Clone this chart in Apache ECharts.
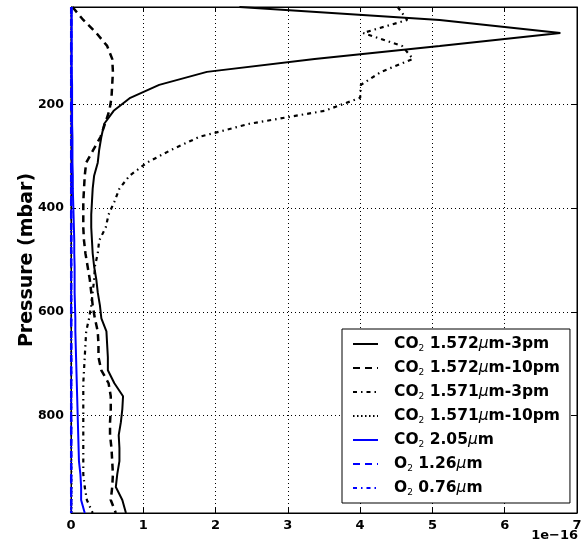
<!DOCTYPE html>
<html>
<head>
<meta charset="utf-8">
<script src="https://cdn.jsdelivr.net/npm/echarts@6/dist/echarts.min.js"></script>
<style>
  html, body { margin: 0; padding: 0; background: #fff; }
  #chart { width: 587px; height: 543px; }
</style>
</head>
<body>
<div id="chart"></div>
<script>
// pressure levels (mbar), layer mid-points
var pressure = [12.5, 37.5, 62.5, 87.5, 112.5, 137.5, 162.5, 187.5, 212.5, 237.5,
  262.5, 287.5, 312.5, 337.5, 362.5, 387.5, 412.5, 437.5, 462.5, 487.5,
  512.5, 537.5, 562.5, 587.5, 612.5, 637.5, 662.5, 687.5, 712.5, 737.5,
  762.5, 787.5, 812.5, 837.5, 862.5, 887.5, 912.5, 937.5, 962.5, 987.5];

// values in units of 1e-16
var co2_1572_3pm = [2.33, 5.1, 6.77, 5.1, 3.37, 1.88, 1.22, 0.82, 0.59, 0.46,
  0.42, 0.39, 0.37, 0.32, 0.30, 0.29, 0.28, 0.28, 0.29, 0.30,
  0.32, 0.35, 0.37, 0.40, 0.42, 0.49, 0.50, 0.51, 0.51, 0.60,
  0.72, 0.71, 0.69, 0.66, 0.67, 0.67, 0.64, 0.62, 0.71, 0.76];
var co2_1572_10pm = [0.02, 0.17, 0.35, 0.5, 0.57, 0.58, 0.57, 0.56, 0.53, 0.47,
  0.41, 0.31, 0.21, 0.19, 0.18, 0.17, 0.17, 0.17, 0.18, 0.20,
  0.23, 0.26, 0.28, 0.30, 0.33, 0.37, 0.38, 0.38, 0.42, 0.52,
  0.55, 0.55, 0.54, 0.54, 0.56, 0.57, 0.58, 0.57, 0.55, 0.62];
var co2_1571_3pm = [4.52, 4.65, 4.04, 4.58, 4.73, 4.29, 4.01, 4.0, 3.51, 2.47,
  1.78, 1.39, 1.05, 0.81, 0.67, 0.60, 0.52, 0.48, 0.39, 0.37,
  0.33, 0.32, 0.30, 0.28, 0.25, 0.21, 0.20, 0.19, 0.18, 0.17,
  0.17, 0.17, 0.17, 0.17, 0.17, 0.17, 0.17, 0.19, 0.22, 0.30];
var co2_1571_10pm = [0.005, 0.005, 0.005, 0.005, 0.005, 0.005, 0.005, 0.005, 0.005, 0.005,
  0.005, 0.005, 0.005, 0.005, 0.005, 0.005, 0.005, 0.005, 0.005, 0.005,
  0.005, 0.005, 0.005, 0.005, 0.005, 0.005, 0.005, 0.005, 0.005, 0.005,
  0.005, 0.005, 0.005, 0.005, 0.005, 0.008, 0.008, 0.01, 0.01, 0.01];
var co2_205 = [0.01, 0.01, 0.01, 0.01, 0.01, 0.01, 0.015, 0.015, 0.015, 0.015,
  0.02, 0.02, 0.02, 0.025, 0.025, 0.03, 0.035, 0.04, 0.045, 0.045,
  0.05, 0.05, 0.05, 0.055, 0.06, 0.06, 0.065, 0.07, 0.075, 0.08,
  0.085, 0.09, 0.095, 0.1, 0.105, 0.11, 0.13, 0.14, 0.14, 0.19];
var o2_126 = [0.003, 0.003, 0.003, 0.003, 0.003, 0.003, 0.003, 0.003, 0.003, 0.003,
  0.003, 0.003, 0.003, 0.003, 0.003, 0.003, 0.003, 0.003, 0.003, 0.003,
  0.003, 0.003, 0.003, 0.003, 0.003, 0.003, 0.003, 0.003, 0.003, 0.003,
  0.003, 0.003, 0.003, 0.003, 0.003, 0.003, 0.003, 0.003, 0.003, 0.003];
var o2_076 = [0.002, 0.002, 0.002, 0.002, 0.002, 0.002, 0.002, 0.002, 0.002, 0.002,
  0.002, 0.002, 0.002, 0.002, 0.002, 0.002, 0.002, 0.002, 0.002, 0.002,
  0.002, 0.002, 0.002, 0.002, 0.002, 0.002, 0.002, 0.002, 0.002, 0.002,
  0.002, 0.002, 0.002, 0.002, 0.002, 0.002, 0.002, 0.002, 0.002, 0.002];

var yTicks = [200, 400, 600, 800];

var seriesDefs = [
  { name: 'CO2 1.572μm-3pm', label: 'CO{sub|2} 1.572{mu|μ}m-3pm', data: co2_1572_3pm, color: '#000', type: 'solid', width: 2 },
  { name: 'CO2 1.572μm-10pm', label: 'CO{sub|2} 1.572{mu|μ}m-10pm', data: co2_1572_10pm, color: '#000', type: [7, 5], width: 2.5 },
  { name: 'CO2 1.571μm-3pm', label: 'CO{sub|2} 1.571{mu|μ}m-3pm', data: co2_1571_3pm, color: '#000', type: [4, 4, 1.5, 4], width: 2.2 },
  { name: 'CO2 1.571μm-10pm', label: 'CO{sub|2} 1.571{mu|μ}m-10pm', data: co2_1571_10pm, color: '#000', type: [1.5, 2.5], width: 1.5 },
  { name: 'CO2 2.05μm', label: 'CO{sub|2} 2.05{mu|μ}m', data: co2_205, color: '#0000ff', type: 'solid', width: 2 },
  { name: 'O2 1.26μm', label: 'O{sub|2} 1.26{mu|μ}m', data: o2_126, color: '#0000ff', type: [7, 5], width: 2.5 },
  { name: 'O2 0.76μm', label: 'O{sub|2} 0.76{mu|μ}m', data: o2_076, color: '#0000ff', type: [4, 4, 1.5, 4], width: 2.2 }
];

var labelMap = {};
seriesDefs.forEach(function (s) { labelMap[s.name] = s.label; });

var chart = echarts.init(document.getElementById('chart'));

var font = 'DejaVu Sans';
var gridLine = { show: true, lineStyle: { color: '#000', type: [1, 3], width: 1 } };

var option = {
  animation: false,
  backgroundColor: '#fff',
  grid: { left: 71, right: 10, top: 7, bottom: 30, show: true, borderColor: '#000', borderWidth: 1 },
  xAxis: [{
    type: 'value', min: 0, max: 7, interval: 1,
    axisLine: { show: true, onZero: false, lineStyle: { color: '#000' } },
    axisTick: { show: true, inside: true, length: 5, lineStyle: { color: '#000' } },
    axisLabel: { color: '#000', fontFamily: font, fontWeight: 'bold', fontSize: 13, margin: 6 },
    splitLine: gridLine
  }, {
    type: 'value', min: 0, max: 7, interval: 1, position: 'top',
    axisLine: { show: true, onZero: false, lineStyle: { color: '#000' } },
    axisTick: { show: true, inside: true, length: 5, lineStyle: { color: '#000' } },
    axisLabel: { show: false },
    splitLine: { show: false }
  }],
  yAxis: [{
    type: 'value', min: 12.5, max: 987.5, inverse: true,
    name: 'Pressure (mbar)', nameLocation: 'middle', nameGap: 34, nameMoveOverlap: false,
    nameTextStyle: { color: '#000', fontFamily: font, fontWeight: 'bold', fontSize: 19 },
    axisLine: { show: true, onZero: false, lineStyle: { color: '#000' } },
    axisTick: { show: true, inside: true, length: 5, customValues: yTicks, lineStyle: { color: '#000' } },
    axisLabel: { color: '#000', fontFamily: font, fontWeight: 'bold', fontSize: 12.5, margin: 7, customValues: yTicks },
    splitLine: gridLine
  }, {
    type: 'value', min: 12.5, max: 987.5, inverse: true, position: 'right',
    axisLine: { show: true, onZero: false, lineStyle: { color: '#000' } },
    axisTick: { show: true, inside: true, length: 5, customValues: yTicks, lineStyle: { color: '#000' } },
    axisLabel: { show: false },
    splitLine: { show: false }
  }],
  legend: {
    orient: 'vertical',
    left: 342, top: 329,
    padding: [6, 10, 6, 10],
    itemWidth: 25, itemHeight: 12, itemGap: 6,
    backgroundColor: '#fff', borderColor: '#000', borderWidth: 1,
    itemStyle: { color: 'transparent', borderWidth: 0, opacity: 0 },
    data: seriesDefs.map(function (s) { return s.name; }),
    formatter: function (name) { return labelMap[name]; },
    textStyle: {
      color: '#000', fontFamily: font, fontWeight: 'bold', fontSize: 15.5, lineHeight: 18,
      padding: [0, 0, 0, 11],
      rich: {
        sub: { fontFamily: font, fontWeight: 'normal', fontSize: 9, lineHeight: 18, verticalAlign: 'bottom', color: '#000' },
        mu: { fontFamily: font, fontStyle: 'italic', fontWeight: 'normal', fontSize: 15.5, lineHeight: 18, color: '#000' }
      }
    }
  },
  graphic: [{
    type: 'text', right: 9, top: 529,
    style: { text: '1e\u221216', fill: '#000', font: 'bold 13px "DejaVu Sans"' }
  }],
  series: seriesDefs.map(function (s) {
    return {
      name: s.name,
      type: 'line',
      data: s.data.map(function (v, i) { return [v, pressure[i]]; }),
      symbol: 'none',
      showSymbol: false,
      lineStyle: { color: s.color, width: s.width, type: s.type },
      itemStyle: { color: s.color }
    };
  })
};

chart.setOption(option);
</script>
</body>
</html>
